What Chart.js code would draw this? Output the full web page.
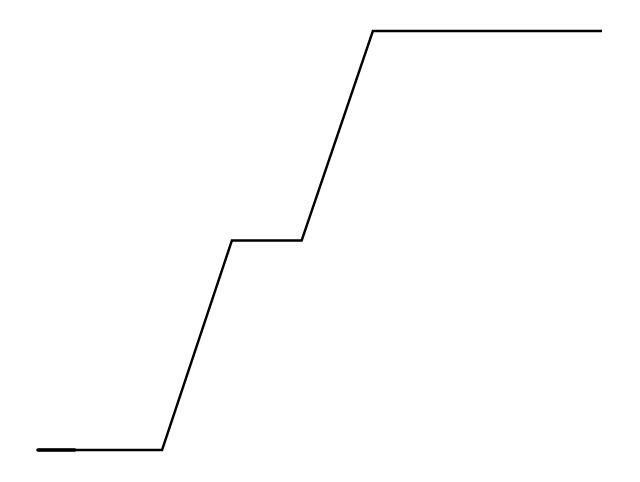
<!DOCTYPE html>
<html>
<head>
<meta charset="utf-8">
<script src="https://cdn.jsdelivr.net/npm/chart.js@4"></script>
<style>
html,body{margin:0;padding:0;background:#fff;}
#wrap{width:640px;height:482px;}
</style>
</head>
<body>
<div id="wrap"><canvas id="c" width="640" height="482"></canvas></div>
<script>
const xValues = [0, 1.76, 2.75, 3.74, 4.75, 8];
const yValues = [0, 0, 1, 1, 2, 2];
const startX = [0, 0.52];
const startY = [0, 0];
const points = xValues.map((x, i) => ({x: x, y: yValues[i]}));
const startPoints = startX.map((x, i) => ({x: x, y: startY[i]}));
new Chart(document.getElementById('c'), {
  type: 'line',
  data: {
    datasets: [{
      data: points,
      borderColor: '#000',
      borderWidth: 2.4,
      pointRadius: 0,
      fill: false,
      tension: 0,
      clip: false
    }, {
      data: startPoints,
      borderColor: '#000',
      borderWidth: 3.6,
      borderCapStyle: 'round',
      pointRadius: 0,
      fill: false,
      tension: 0,
      clip: false
    }]
  },
  options: {
    responsive: false,
    animation: false,
    layout: {padding: {left: 38, right: 38, top: 31, bottom: 32}},
    plugins: {legend: {display: false}, tooltip: {enabled: false}},
    scales: {
      x: {type: 'linear', min: 0, max: 8, display: false},
      y: {type: 'linear', min: 0, max: 2, display: false}
    }
  }
});
</script>
</body>
</html>
